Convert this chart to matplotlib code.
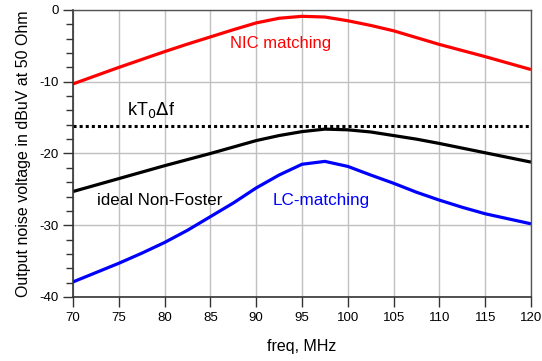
import numpy as np
import matplotlib
matplotlib.use("Agg")
import matplotlib.pyplot as plt
from matplotlib.ticker import MultipleLocator

plt.rcParams['font.family'] = ['Liberation Sans', 'DejaVu Sans']
plt.rcParams['axes.unicode_minus'] = False

# values (dBuV), every 2.5 MHz
freq = [70, 72.5, 75, 77.5, 80, 82.5, 85, 87.5, 90, 92.5, 95, 97.5,
        100, 102.5, 105, 107.5, 110, 112.5, 115, 117.5, 120]
nic = [-10.3, -9.15, -8.0, -6.9, -5.8, -4.75, -3.75, -2.75, -1.8, -1.15, -0.88, -0.98,
       -1.5, -2.15, -2.9, -3.85, -4.8, -5.65, -6.5, -7.4, -8.3]
ideal_nf = [-25.3, -24.4, -23.5, -22.6, -21.7, -20.85, -20.0, -19.1, -18.2, -17.5, -16.95, -16.6,
            -16.7, -17.0, -17.5, -18.0, -18.6, -19.25, -19.9, -20.55, -21.2]
lc = [-37.9, -36.6, -35.3, -33.9, -32.4, -30.7, -28.8, -26.9, -24.8, -23.0, -21.5, -21.1,
      -21.8, -23.0, -24.15, -25.4, -26.5, -27.5, -28.4, -29.1, -29.8]
ktf = -16.2

fig = plt.figure(figsize=(5.42, 3.61), dpi=100)
ax = fig.add_axes([0.1347, 0.1773, 0.845, 0.795])

ax.plot(freq, nic, color='#ff0000', lw=2.3, solid_capstyle='butt', solid_joinstyle='round')
ax.plot(freq, ideal_nf, color='black', lw=2.3, solid_capstyle='butt', solid_joinstyle='round')
ax.plot(freq, lc, color='#0000ff', lw=2.3, solid_capstyle='butt', solid_joinstyle='round')
ax.axhline(ktf, color='black', lw=2.2, linestyle=(0, (1, 1)))

ax.set_xlim(70, 120)
ax.set_ylim(-40, 0)
ax.xaxis.set_major_locator(MultipleLocator(5))
ax.yaxis.set_major_locator(MultipleLocator(10))
ax.yaxis.set_minor_locator(MultipleLocator(2))
ax.grid(True, which='major', color='#c0c0c0', lw=1)
ax.set_axisbelow(True)

ax.tick_params(axis='both', which='major', direction='out', length=7, width=1,
               labelsize=9.5, color='#333333')
ax.tick_params(axis='y', which='minor', direction='out', length=5, width=1, color='#333333')
ax.tick_params(top=False, right=False)

for s in ['left', 'bottom']:
    ax.spines[s].set_color('#333333')
    ax.spines[s].set_linewidth(1.2)
for s in ['top', 'right']:
    ax.spines[s].set_color('#555555')
    ax.spines[s].set_linewidth(1.0)

ax.set_xlabel('freq, MHz', fontsize=11.5, labelpad=11)
ax.set_ylabel('Output noise voltage in dBuV at 50 Ohm', fontsize=11.5, labelpad=6)

ax.text(92.7, -4.6, 'NIC matching', color='#ff0000', fontsize=12, ha='center', va='center')
ax.text(75.9, -14.0, r'kT$_0$$\Delta$f', color='black', fontsize=13, ha='left', va='center')
ax.text(79.5, -26.6, 'ideal Non-Foster', color='black', fontsize=12.2, ha='center', va='center')
ax.text(91.8, -26.5, 'LC-matching', color='#0000ff', fontsize=12.3, ha='left', va='center')

fig.savefig('out.png', dpi=100)
